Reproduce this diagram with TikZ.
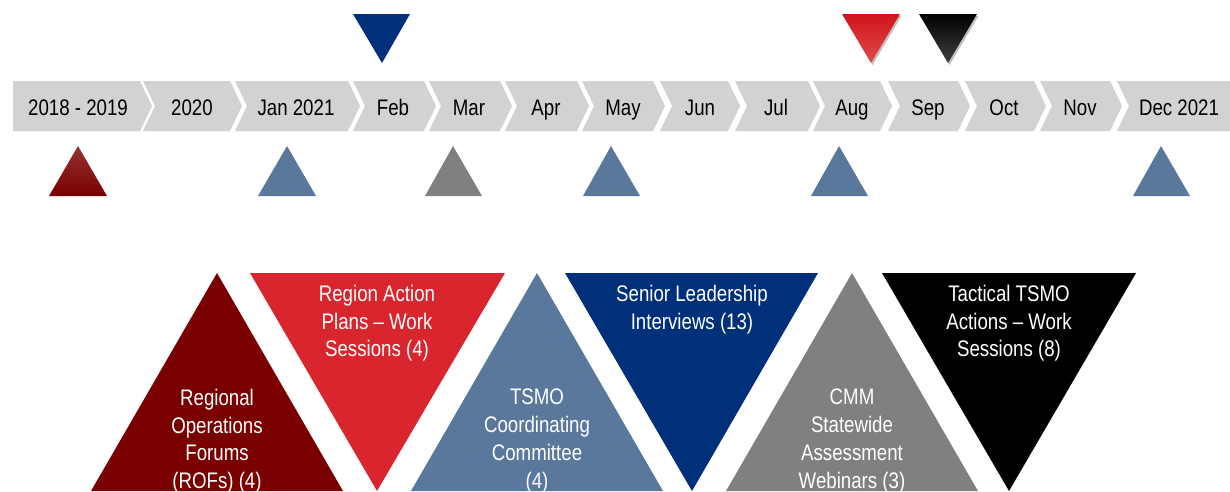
\documentclass[tikz,border=0pt]{standalone}
\usepackage{fontspec}
\setmainfont{Liberation Sans}[FakeStretch=0.83]
\usetikzlibrary{shadows}
\definecolor{chevgray}{HTML}{D2D1D3}
\definecolor{wine}{HTML}{7A0000}
\definecolor{winetop}{HTML}{953232}
\definecolor{brick}{HTML}{D9262E}
\definecolor{redtop}{HTML}{D0141B}
\definecolor{redbottom}{HTML}{E24C4C}
\definecolor{blackbottom}{HTML}{404040}
\definecolor{steel}{HTML}{59789C}
\definecolor{navyblue}{HTML}{00307A}
\definecolor{slate}{HTML}{808080}
\begin{document}
\begin{tikzpicture}[x=1pt,y=-1pt,
  chevron/.style={fill=chevgray},
  chevlabel/.style={anchor=base, inner sep=0pt, text=black,
    font=\fontsize{22.5}{26}\selectfont},
  trilabel/.style={anchor=north, inner sep=0pt, align=center, text=white,
    font=\fontsize{22.5}{27.7}\selectfont},
  softshadow/.style={drop shadow={shadow xshift=1.5pt, shadow yshift=-2pt,
    opacity=0.25, fill=black}}]
\useasboundingbox (0,0) rectangle (1230,491);
\clip (0,0) rectangle (1230,491);

% ---- timeline chevrons ----
\path[chevron] (13,81) -- (140,81) -- (152,106) -- (140,131) -- (13,131) -- cycle;
\foreach \l/\r in {143/230, 235/348, 353/424, 429/500, 505/577, 582/653,
                   660/728, 735/808, 813/880, 888/958, 965/1034, 1040/1110}
  \path[chevron] (\l,81) -- (\r,81) -- (\r+12,106) -- (\r,131) -- (\l,131)
                 -- (\l+12,106) -- cycle;
\path[chevron] (1117,81) -- (1230,81) -- (1230,131) -- (1117,131) -- (1129,106) -- cycle;

\foreach \c/\n/\t in {78/1/2018 - 2019, 192/2/2020, 296/3/Jan 2021, 393/4/Feb,
                      469/5/Mar, 546/6/Apr, 623/7/May, 700/8/Jun, 776/9/Jul,
                      852/10/Aug, 928/11/Sep, 1004/12/Oct, 1080/13/Nov,
                      1179/14/Dec 2021}
  \node[chevlabel] (m\n) at (\c,115) {\t};

% ---- markers above the timeline ----
\fill[navyblue] (353,14) -- (410,14) -- (382,63) -- cycle;
\path[softshadow, top color=redtop, bottom color=redbottom]
  (842,14) -- (900,14) -- (871,63) -- cycle;
\path[softshadow, top color=black, bottom color=blackbottom]
  (919,14) -- (977,14) -- (948,63) -- cycle;

% ---- markers below the timeline ----
\path[top color=winetop, middle color=wine, bottom color=wine]
  (49,196) -- (107,196) -- (78,146) -- cycle;
\fill[steel] (258,196) -- (316,196) -- (287,146) -- cycle;
\fill[slate] (425,196) -- (482,196) -- (453,146) -- cycle;
\fill[steel] (583,196) -- (640,196) -- (611,146) -- cycle;
\fill[steel] (811,196) -- (868,196) -- (839,146) -- cycle;
\fill[steel] (1133,196) -- (1190,196) -- (1161,146) -- cycle;

% ---- activity triangles ----
\fill[wine]      (217,273) -- (343,491) -- (91,491) -- cycle;
\fill[brick]     (250,273) -- (505,273) -- (377,491) -- cycle;
\fill[steel]     (537,273) -- (663,491) -- (411,491) -- cycle;
\fill[navyblue]  (565,273) -- (818,273) -- (692,491) -- cycle;
\fill[slate]     (852,273) -- (978,491) -- (726,491) -- cycle;
\fill[black]     (882,273) -- (1136,273) -- (1009,491) -- cycle;

\node[trilabel] (rof)  at (217,389) {Regional\\Operations\\Forums\\(ROFs) (4)};
\node[trilabel] (rap)  at (377,285) {Region Action\\Plans – Work\\Sessions (4)};
\node[trilabel] (tcc)  at (537,389) {TSMO\\Coordinating\\Committee\\(4)};
\node[trilabel] (sli)  at (692,285) {Senior Leadership\\Interviews (13)};
\node[trilabel] (cmm)  at (852,389) {CMM\\Statewide\\Assessment\\Webinars (3)};
\node[trilabel] (tact) at (1009,285) {Tactical TSMO\\Actions – Work\\Sessions (8)};
\end{tikzpicture}
\end{document}
